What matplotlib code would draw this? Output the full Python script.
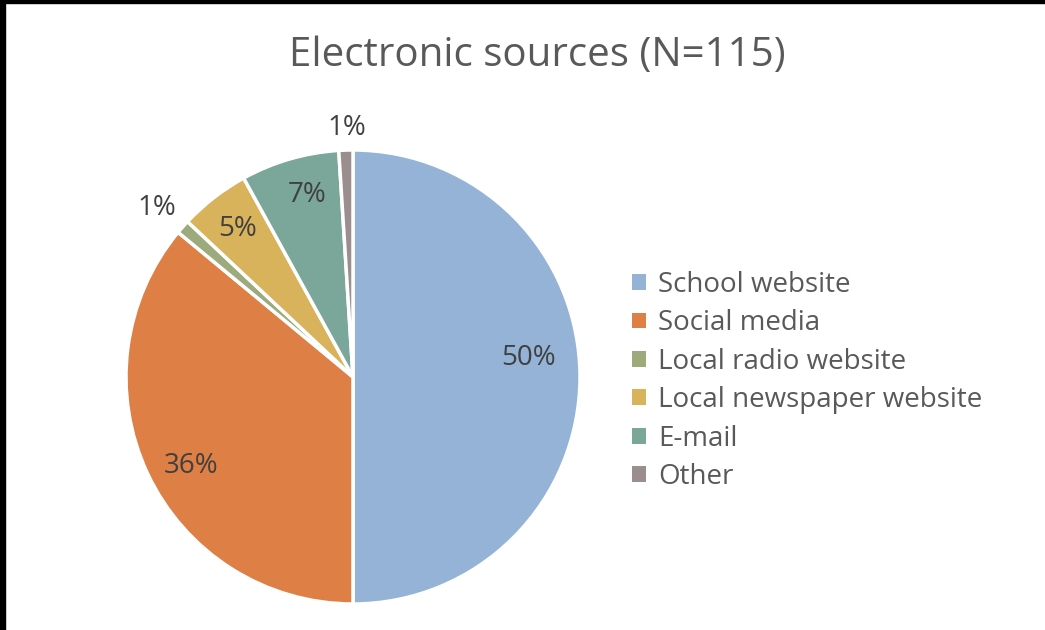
import matplotlib.pyplot as plt
import numpy as np
from matplotlib.patches import Patch

plt.rcParams['font.family'] = ['Open Sans', 'DejaVu Sans']

categories = ['School website', 'Social media', 'Local radio website',
              'Local newspaper website', 'E-mail', 'Other']
shares = [50, 36, 1, 5, 7, 1]
colors = ['#95B3D7', '#DE8046', '#9DAA7B', '#D9B25C', '#7AA79A', '#9B8E8E']

# small pixel nudges (right, down) applied to each percentage label
label_nudge = [(-11, -19), (7, 10), (-2, 2), (-1, -1), (6, -3), (2, 10)]

fig = plt.figure(figsize=(10.45, 6.3), dpi=100)
fig.patch.set_facecolor('white')

# pie centred at (353, 377) px with radius 227 px
W, H = 1045, 630
cx, cy, r = 353, 377, 227
ax = fig.add_axes([(cx - r) / W, (H - cy - r) / H, 2 * r / W, 2 * r / H])

wedges, _ = ax.pie(shares, colors=colors, startangle=90, counterclock=False,
                   wedgeprops=dict(edgecolor='white', linewidth=2.5))
ax.set_xlim(-1, 1)
ax.set_ylim(-1, 1)
ax.set_aspect('auto')

for w, v, (nx, ny) in zip(wedges, shares, label_nudge):
    mid = np.deg2rad((w.theta1 + w.theta2) / 2)
    d = 0.82 if v >= 3 else 1.14
    ax.text(d * np.cos(mid) + nx / r, d * np.sin(mid) - ny / r, f'{v}%',
            ha='center', va='center', fontsize=20, color='#404040')

fig.text(537 / W, 1 - 56 / H, 'Electronic sources (N=115)', ha='center', va='center',
         fontsize=29, color='#595959')

handles = [Patch(facecolor=c, edgecolor='none') for c in colors]
leg = fig.legend(handles, categories, loc='upper left', bbox_to_anchor=(607 / W, 1 - 246 / H),
                 frameon=False, fontsize=20, labelcolor='#595959',
                 handlelength=0.5, handleheight=0.5, handletextpad=0.45, labelspacing=0.375)

# black frame strips along the top and left edges
fig.add_artist(plt.Rectangle((0, 1 - 3 / H), 1, 3 / H, transform=fig.transFigure,
                             color='black', zorder=10))
fig.add_artist(plt.Rectangle((0, 0), 5 / W, 1, transform=fig.transFigure,
                             color='black', zorder=10))

fig.savefig('out.png', dpi=100)
